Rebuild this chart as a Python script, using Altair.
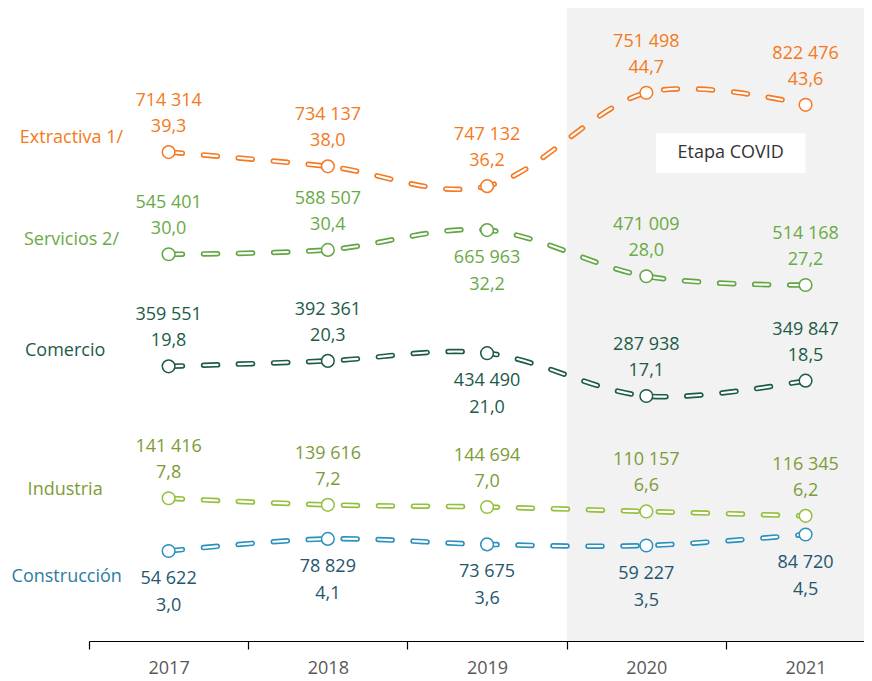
import altair as alt
import pandas as pd

years = [2017, 2018, 2019, 2020, 2021]
sectors = ["Extractiva 1/", "Servicios 2/", "Comercio", "Industria", "Construcción"]

counts = {
    "Extractiva 1/": [714314, 734137, 747132, 751498, 822476],
    "Servicios 2/": [545401, 588507, 665963, 471009, 514168],
    "Comercio": [359551, 392361, 434490, 287938, 349847],
    "Industria": [141416, 139616, 144694, 110157, 116345],
    "Construcción": [54622, 78829, 73675, 59227, 84720],
}
shares = {
    "Extractiva 1/": [39.3, 38.0, 36.2, 44.7, 43.6],
    "Servicios 2/": [30.0, 30.4, 32.2, 28.0, 27.2],
    "Comercio": [19.8, 20.3, 21.0, 17.1, 18.5],
    "Industria": [7.8, 7.2, 7.0, 6.6, 6.2],
    "Construcción": [3.0, 4.1, 3.6, 3.5, 4.5],
}
label_side = {
    "Extractiva 1/": ["up", "up", "up", "up", "up"],
    "Servicios 2/": ["up", "up", "down", "up", "up"],
    "Comercio": ["up", "up", "down", "up", "up"],
    "Industria": ["up", "up", "up", "up", "up"],
    "Construcción": ["down", "down", "down", "down", "down"],
}
line_colors = {
    "Extractiva 1/": "#F47920",
    "Servicios 2/": "#62A543",
    "Comercio": "#1D5B46",
    "Industria": "#93C03C",
    "Construcción": "#2A90BC",
}
text_colors = {
    "Extractiva 1/": "#F47920",
    "Servicios 2/": "#6AAA46",
    "Comercio": "#1D5B46",
    "Industria": "#7C9C38",
    "Construcción": "#24566E",
}
name_colors = {
    "Extractiva 1/": "#F47920",
    "Servicios 2/": "#6AAA46",
    "Comercio": "#1D5B46",
    "Industria": "#7C9C38",
    "Construcción": "#2C7C9E",
}
# annotation anchor for the sector names (x in years, y in share units)
name_x = [2016.39, 2016.39, 2016.35, 2016.35, 2016.36]
name_y = [40.6, 31.3, 21.2, 8.55, 0.65]

x_domain = [2016.5, 2021.367]
y_domain = [-5.19, 52.41]
covid_start = 2019.5
covid_box = [2020.06, 2021.0, 37.4, 41.0]
covid_text_pos = [2020.53, 39.2]

rows = []
for s in sectors:
    for i, yr in enumerate(years):
        rows.append({
            "sector": s,
            "year": yr,
            "pct": shares[s][i],
            "num": f"{counts[s][i]:,}".replace(",", " "),
            "pct_txt": f"{shares[s][i]:.1f}".replace(".", ","),
            "side": label_side[s][i],
            "lcolor": line_colors[s],
            "tcolor": text_colors[s],
        })
df = pd.DataFrame(rows)

names_df = pd.DataFrame({
    "sector": sectors,
    "x": name_x,
    "y": name_y,
    "ncolor": [name_colors[s] for s in sectors],
})

FONT = "Open Sans"
FS = 18

xs = alt.Scale(domain=x_domain, nice=False, zero=False)
ys = alt.Scale(domain=y_domain, nice=False, zero=False)

xaxis = alt.Axis(
    values=[2016.5, 2017.5, 2018.5, 2019.5, 2020.5],
    labelExpr="format(datum.value + 0.5, 'd')",
    labelOffset=79.6,
    title=None,
    grid=False,
    domainColor="#000000",
    domainWidth=1.2,
    tickColor="#000000",
    tickWidth=1.2,
    tickSize=8,
    labelColor="#595959",
    labelFont=FONT,
    labelFontSize=FS,
    labelPadding=10,
    labelOverlap=False,
    labelBound=False,
    labelFlush=False,
)

X = alt.X("year:Q", scale=xs, axis=xaxis)
Y = alt.Y("pct:Q", scale=ys, axis=None)

base = alt.Chart(df)

band = alt.Chart(pd.DataFrame({"a": [covid_start], "b": [x_domain[1]]})).mark_rect(
    color="#F2F2F2"
).encode(
    x=alt.X("a:Q", scale=xs, axis=xaxis),
    x2="b:Q",
)

box = alt.Chart(pd.DataFrame({
    "x1": [covid_box[0]], "x2": [covid_box[1]], "y1": [covid_box[2]], "y2": [covid_box[3]]
})).mark_rect(color="#FFFFFF").encode(
    x=alt.X("x1:Q", scale=xs), x2="x2:Q",
    y=alt.Y("y1:Q", scale=ys, axis=None), y2="y2:Q",
)

box_text = alt.Chart(pd.DataFrame({
    "x": [covid_text_pos[0]], "y": [covid_text_pos[1]], "t": ["Etapa COVID"]
})).mark_text(font=FONT, fontSize=FS, color="#333333", align="center", baseline="middle").encode(
    x=alt.X("x:Q", scale=xs), y=alt.Y("y:Q", scale=ys, axis=None), text="t:N"
)

outer = base.mark_line(
    strokeWidth=5.5, strokeDash=[14, 21], strokeCap="round", interpolate="cardinal"
).encode(x=X, y=Y, detail="sector:N", color=alt.Color("lcolor:N", scale=None))

inner = base.mark_line(
    strokeWidth=2.2, strokeDash=[14, 21], strokeCap="round", interpolate="cardinal", color="#FFFFFF"
).encode(x=X, y=Y, detail="sector:N")

points = base.mark_point(
    filled=True, fill="#FFFFFF", size=160, strokeWidth=1.5, opacity=1, shape="circle"
).encode(x=X, y=Y, stroke=alt.Stroke("lcolor:N", scale=None))

def txt(field, side, dy):
    return base.transform_filter(alt.datum.side == side).mark_text(
        font=FONT, fontSize=FS, align="center", baseline="middle", dy=dy
    ).encode(x=X, y=Y, text=f"{field}:N", color=alt.Color("tcolor:N", scale=None))

num_up = txt("num", "up", -51)
pct_up = txt("pct_txt", "up", -25)
num_dn = txt("num", "down", 28)
pct_dn = txt("pct_txt", "down", 55)

names = alt.Chart(names_df).mark_text(
    font=FONT, fontSize=FS, align="center", baseline="middle"
).encode(
    x=alt.X("x:Q", scale=xs),
    y=alt.Y("y:Q", scale=ys, axis=None),
    text="sector:N",
    color=alt.Color("ncolor:N", scale=None),
)

chart = alt.layer(
    band, box, box_text, outer, inner, points, num_up, pct_up, num_dn, pct_dn, names
).properties(
    width=775,
    height=633,
    autosize=alt.AutoSizeParams(type="none"),
    padding={"left": 81, "top": 0, "right": 0, "bottom": 40},
).configure_view(stroke=None)

chart.save("out.html", embed_options={"renderer": "svg", "actions": False})
